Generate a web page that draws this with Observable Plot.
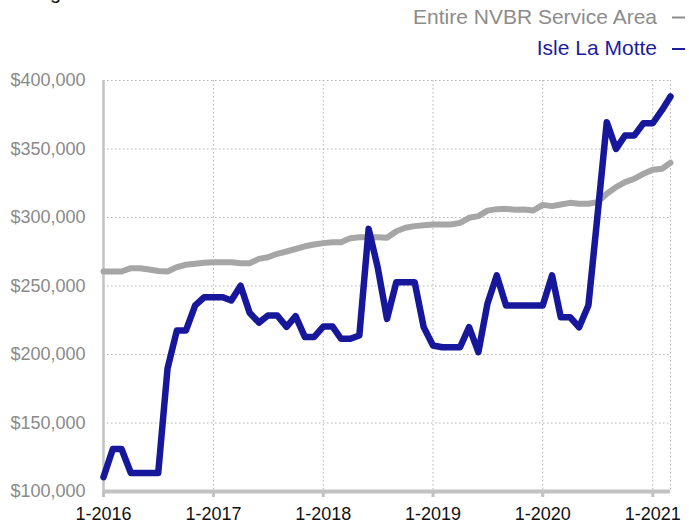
<!DOCTYPE html>
<html>
<head>
<meta charset="utf-8">
<script src="https://cdn.jsdelivr.net/npm/d3@7"></script>
<script src="https://cdn.jsdelivr.net/npm/@observablehq/plot@0.6"></script>
<style>
  body { margin: 0; background: #fff; font-family: "Liberation Sans", Arial, sans-serif; }
  #wrap { width: 689px; }
  #legend { display: block; }
  #chart svg { display: block; overflow: visible; }
</style>
</head>
<body>
<div id="wrap">
  <svg id="legend" width="689" height="62"></svg>
  <div id="chart"></div>
</div>
<script>
// ---- data ----
const months = [
  "2016-01","2016-02","2016-03","2016-04","2016-05","2016-06","2016-07","2016-08","2016-09","2016-10","2016-11","2016-12",
  "2017-01","2017-02","2017-03","2017-04","2017-05","2017-06","2017-07","2017-08","2017-09","2017-10","2017-11","2017-12",
  "2018-01","2018-02","2018-03","2018-04","2018-05","2018-06","2018-07","2018-08","2018-09","2018-10","2018-11","2018-12",
  "2019-01","2019-02","2019-03","2019-04","2019-05","2019-06","2019-07","2019-08","2019-09","2019-10","2019-11","2019-12",
  "2020-01","2020-02","2020-03","2020-04","2020-05","2020-06","2020-07","2020-08","2020-09","2020-10","2020-11","2020-12",
  "2021-01","2021-02","2021-03"
];
const nvbrValues = [
  260600,260600,260600,263000,263000,262000,261000,260600,263800,265500,266200,266900,
  267400,267400,267400,266600,266600,269800,271000,273500,275200,277000,279000,280300,
  281300,282000,282000,284900,285600,285600,285600,285200,290000,292500,293700,294400,
  294900,294900,294900,296100,299800,301000,305000,306100,306300,305600,305900,305100,
  309200,308300,309500,310700,310000,310000,311200,317300,322200,325800,328300,331900,
  334800,335600,340000
];
const isleValues = [
  110500,131000,131000,113500,113500,113500,113500,189800,217500,217500,235800,241800,
  241800,241800,239400,250200,230500,223300,228500,228500,220200,228000,212700,212700,
  220400,220400,211500,211500,213900,291700,263700,226000,252800,252800,252800,220000,
  206600,205300,205300,205300,220000,201700,237000,257700,235800,235800,235800,235800,
  235800,257700,227200,227200,219900,236000,301000,369600,350100,359900,359900,368800,
  368800,378500,388300
];
const seriesNames = ["Entire NVBR Service Area", "Isle La Motte"];
const seriesColors = ["#a6a6a6", "#17179b"];
const legendTextColors = ["#8c8c8c", "#1c1ca0"];
const yTicks = [100000, 150000, 200000, 250000, 300000, 350000, 400000];
const xTickMonths = ["2016-01","2017-01","2018-01","2019-01","2020-01","2021-01"];

// ---- build ----
const parse = d3.utcParse("%Y-%m");
const data = months.map((m, i) => ({date: parse(m), nvbr: nvbrValues[i], isle: isleValues[i]}));
const xTickDates = xTickMonths.map(parse);
const firstDate = parse(months[0]);
const lastDate = parse(months[months.length - 1]);

// legend (SVG above the chart)
const leg = d3.select("#legend");
leg.append("text").attr("x", 50).attr("y", -1).attr("font-size", 20).attr("fill", "#111").text("g");
const legY = [24, 55];
const dashY = [17.5, 49];
seriesNames.forEach((name, i) => {
  leg.append("text")
    .attr("x", 657).attr("y", legY[i])
    .attr("text-anchor", "end")
    .attr("font-size", 21)
    .attr("font-family", "Liberation Sans, Arial, sans-serif")
    .attr("fill", legendTextColors[i])
    .text(name);
  leg.append("line")
    .attr("x1", 672).attr("x2", 685)
    .attr("y1", dashY[i]).attr("y2", dashY[i])
    .attr("stroke", i === 0 ? "#8c8c8c" : legendTextColors[i])
    .attr("stroke-width", 2);
});

const dotted = {stroke: "#b5b5b5", strokeOpacity: 1, strokeWidth: 1, strokeDasharray: "1.5,2.5"};

const chart = Plot.plot({
  width: 689,
  height: 463,
  marginLeft: 103,
  marginRight: 19,
  marginTop: 18,
  marginBottom: 34,
  style: {fontFamily: "Liberation Sans, Arial, sans-serif", fontSize: "18px", background: "#fff", overflow: "visible"},
  x: {type: "utc", domain: [firstDate, lastDate]},
  y: {domain: [yTicks[0], yTicks[yTicks.length - 1]]},
  marks: [
    Plot.gridY(yTicks.slice(1), dotted),
    Plot.gridX(xTickDates.slice(1), dotted),
    Plot.ruleX([lastDate], dotted),
    Plot.axisY(yTicks, {
      tickSize: 0, tickPadding: 18, label: null,
      tickFormat: d => "$" + d3.format(",")(d),
      fill: "#8a8a8a", fontSize: 18
    }),
    Plot.axisX(xTickDates, {
      tickSize: 6, tickPadding: 10, label: null,
      stroke: "#c2c2c2", strokeWidth: 3,
      tickFormat: d3.utcFormat("%-m-%Y"),
      fill: "#111", fontSize: 18
    }),
    Plot.ruleX([firstDate], {stroke: "#c2c2c2", strokeWidth: 2.5}),
    Plot.ruleY([yTicks[0]], {stroke: "#c2c2c2", strokeWidth: 4}),
    Plot.line(data, {x: "date", y: "nvbr", stroke: seriesColors[0], strokeWidth: 6, strokeLinejoin: "round", strokeLinecap: "round"}),
    Plot.line(data, {x: "date", y: "isle", stroke: seriesColors[1], strokeWidth: 6.5, strokeLinejoin: "round", strokeLinecap: "round"})
  ]
});
document.getElementById("chart").appendChild(chart);
</script>
</body>
</html>
